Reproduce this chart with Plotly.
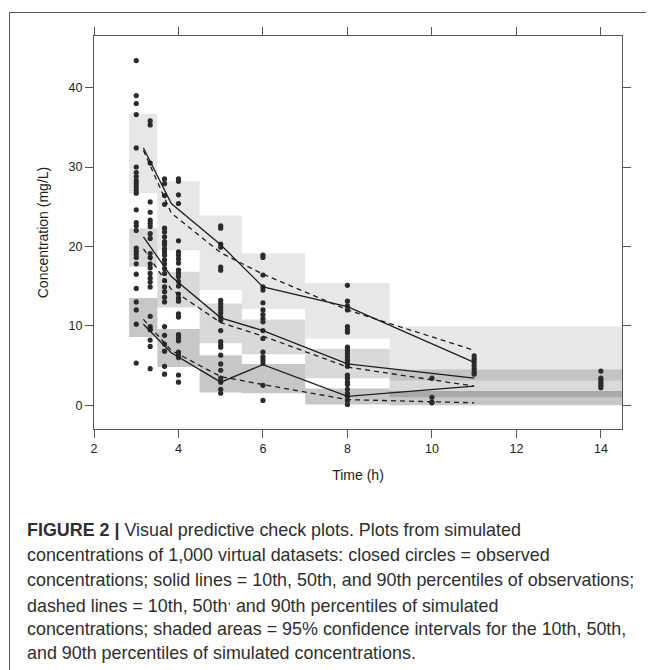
import plotly.graph_objects as go

# ---------------- data ----------------
# observed concentrations by sampling time (h)
obs_times = [3.0, 3.33, 3.67, 4.0, 5.0, 6.0, 8.0, 10.0, 11.0, 14.0]
conc_t3_00 = [43.4, 39.0, 38.0, 36.6, 32.4, 30.0, 29.3, 28.8, 28.3, 27.9, 27.5, 27.1, 26.7,
              24.6, 23.0, 22.6, 22.0, 19.8, 19.4, 19.0, 18.6, 17.8, 16.5, 14.7, 13.0, 12.0, 10.2, 5.3]
conc_t3_33 = [35.8, 35.3, 30.5, 25.6, 24.3, 23.3, 22.9, 22.5, 21.6, 21.0, 19.1, 18.6, 17.8,
              17.3, 16.6, 16.0, 15.5, 14.9, 11.2, 9.9, 9.5, 8.2, 7.4, 4.6]
conc_t3_67 = [28.5, 27.9, 26.4, 25.3, 22.3, 21.8, 21.2, 20.6, 20.2, 19.7, 19.3, 18.9, 18.3,
              17.8, 17.2, 16.6, 15.7, 14.9, 14.3, 13.6, 13.0, 9.9, 8.8, 7.7, 6.8, 4.9, 3.9]
conc_t4_00 = [28.5, 28.2, 26.5, 25.4, 20.7, 19.3, 18.9, 18.4, 17.9, 17.0, 16.6, 16.2, 15.6,
              15.0, 14.0, 13.5, 13.1, 11.5, 11.1, 8.9, 8.5, 8.1, 6.7, 6.3, 6.0, 3.8, 2.9]
conc_t5 = [22.6, 22.3, 20.3, 19.9, 17.4, 17.0, 13.2, 12.8, 12.4, 12.0, 11.6, 11.1, 10.7, 9.4,
           8.0, 7.6, 7.3, 6.3, 5.2, 4.4, 3.4, 2.9, 2.0, 1.5]
conc_t6 = [18.9, 18.6, 16.4, 14.9, 14.5, 12.9, 12.0, 11.4, 10.9, 10.5, 9.4, 8.4, 6.7, 6.1,
           5.7, 5.3, 2.5, 0.6]
conc_t8 = [15.1, 13.1, 12.5, 12.0, 9.9, 9.5, 9.2, 7.3, 6.9, 6.5, 6.1, 5.7, 5.3, 4.9, 3.8,
           3.4, 2.9, 2.6, 2.0, 1.5, 1.1, 0.6, 0.1]
conc_t10 = [3.4, 1.0, 0.4, 0.3]
conc_t11 = [6.2, 5.8, 5.4, 5.0, 4.6, 4.2, 3.9]
conc_t14 = [4.3, 3.4, 3.1, 2.8, 2.5, 2.2]

# percentile lines (bin midpoints)
pct_time = [3.17, 3.83, 5.0, 6.0, 8.0, 11.0]
obs_p90 = [32.4, 25.4, 20.2, 14.9, 12.4, 5.4]
sim_p90 = [32.1, 24.2, 19.2, 16.5, 12.0, 6.9]
obs_p50 = [21.2, 16.2, 11.0, 9.4, 5.2, 3.4]
sim_p50 = [19.7, 14.6, 10.4, 8.7, 4.8, 2.4]
obs_p10 = [10.2, 6.6, 2.9, 5.1, 1.1, 2.4]
sim_p10 = [10.8, 6.9, 3.6, 2.6, 0.7, 0.3]

# 95% CI bands of simulated percentiles per bin
bin_lo = [2.83, 3.5, 4.5, 5.5, 7.0, 9.0]
bin_hi = [3.5, 4.5, 5.5, 7.0, 9.0, 14.5]
ci90_lo = [26.7, 19.5, 14.5, 12.1, 8.4, 3.1]
ci90_hi = [36.7, 28.2, 23.9, 19.1, 15.4, 9.9]
ci50_lo = [17.4, 12.3, 7.8, 6.4, 3.4, 1.0]
ci50_hi = [22.3, 16.8, 12.8, 10.8, 7.1, 4.5]
ci10_lo = [8.6, 4.8, 1.6, 1.5, 0.1, 0.0]
ci10_hi = [13.5, 9.6, 6.3, 5.2, 2.1, 1.8]

x_ticks = [2, 4, 6, 8, 10, 12, 14]
y_ticks = [0, 10, 20, 30, 40]

caption_lines = [
    "<b>FIGURE 2 |</b> Visual predictive check plots. Plots from simulated",
    "concentrations of 1,000 virtual datasets: closed circles = observed",
    "concentrations; solid lines = 10th, 50th, and 90th percentiles of observations;",
    "dashed lines = 10th, 50th<sup>,</sup> and 90th percentiles of simulated",
    "concentrations; shaded areas = 95% confidence intervals for the 10th, 50th,",
    "and 90th percentiles of simulated concentrations.",
]

# ---------------- figure ----------------
FONT = "Liberation Sans, Arial, sans-serif"
fig = go.Figure()

band_sets = [(ci90_lo, ci90_hi, 0.095), (ci50_lo, ci50_hi, 0.15), (ci10_lo, ci10_hi, 0.22)]
for lo, hi, a in band_sets:
    for x0, x1, y0, y1 in zip(bin_lo, bin_hi, lo, hi):
        fig.add_shape(type="rect", xref="x", yref="y", x0=x0, x1=x1, y0=y0, y1=y1,
                      fillcolor=f"rgba(0,0,0,{a})", line=dict(width=0), layer="below")

all_conc = [conc_t3_00, conc_t3_33, conc_t3_67, conc_t4_00, conc_t5, conc_t6,
            conc_t8, conc_t10, conc_t11, conc_t14]
px, py = [], []
for t, vals in zip(obs_times, all_conc):
    px += [t] * len(vals)
    py += vals
fig.add_trace(go.Scatter(x=px, y=py, mode="markers",
                         marker=dict(size=5.2, color="#2b2b2b"), showlegend=False))

for ys, dash in [(obs_p90, "solid"), (sim_p90, "5px,4px"), (obs_p50, "solid"),
                 (sim_p50, "5px,4px"), (obs_p10, "solid"), (sim_p10, "5px,4px")]:
    fig.add_trace(go.Scatter(x=pct_time, y=ys, mode="lines",
                             line=dict(color="#1e1e1e", width=1.3, dash=dash),
                             showlegend=False))

# page offset (body margin of the html page)
OFF = 8
W, H = 654 - OFF, 670 - OFF
L, R, T, B = 94 - OFF, 622 - OFF, 36 - OFF, 429 - OFF
def px2x(p): return (p - OFF - L) / (R - L)
def py2y(p): return (B - (p - OFF)) / (B - T)

# outer frame lines (partial figure border)
fig.add_shape(type="line", xref="paper", yref="paper", x0=px2x(9.5), x1=px2x(700),
              y0=py2y(12.5), y1=py2y(12.5), line=dict(color="#555", width=1))
fig.add_shape(type="line", xref="paper", yref="paper", x0=px2x(9.5), x1=px2x(9.5),
              y0=py2y(12.5), y1=py2y(700), line=dict(color="#555", width=1))

line_centers = [530, 555, 579.5, 604, 628.5, 653]
for txt, yc in zip(caption_lines, line_centers):
    fig.add_annotation(text=txt, xref="paper", yref="paper", x=px2x(25), y=py2y(yc),
                       xanchor="left", yanchor="middle", showarrow=False,
                       font=dict(family=FONT, size=17.9, color="#2e2e2e"))

axis_common = dict(showline=True, linecolor="#555", linewidth=1, mirror="ticks",
                   ticks="outside", ticklen=8, tickcolor="#555", tickwidth=1,
                   showgrid=False, zeroline=False,
                   tickfont=dict(family=FONT, size=12.5, color="#222"))
fig.update_xaxes(range=[2, 14.5], tickvals=x_ticks, **axis_common,
                 title=dict(text="Time (h)", font=dict(family=FONT, size=14, color="#222"),
                            standoff=15))
fig.update_yaxes(range=[-3, 46.5], tickvals=y_ticks, **axis_common,
                 title=dict(text="Concentration (mg/L)",
                            font=dict(family=FONT, size=14, color="#222"), standoff=16))

fig.update_layout(width=W, height=H, margin=dict(l=L, r=W - R, t=T, b=H - B),
                  paper_bgcolor="white", plot_bgcolor="white")

fig.write_html("out.html")
